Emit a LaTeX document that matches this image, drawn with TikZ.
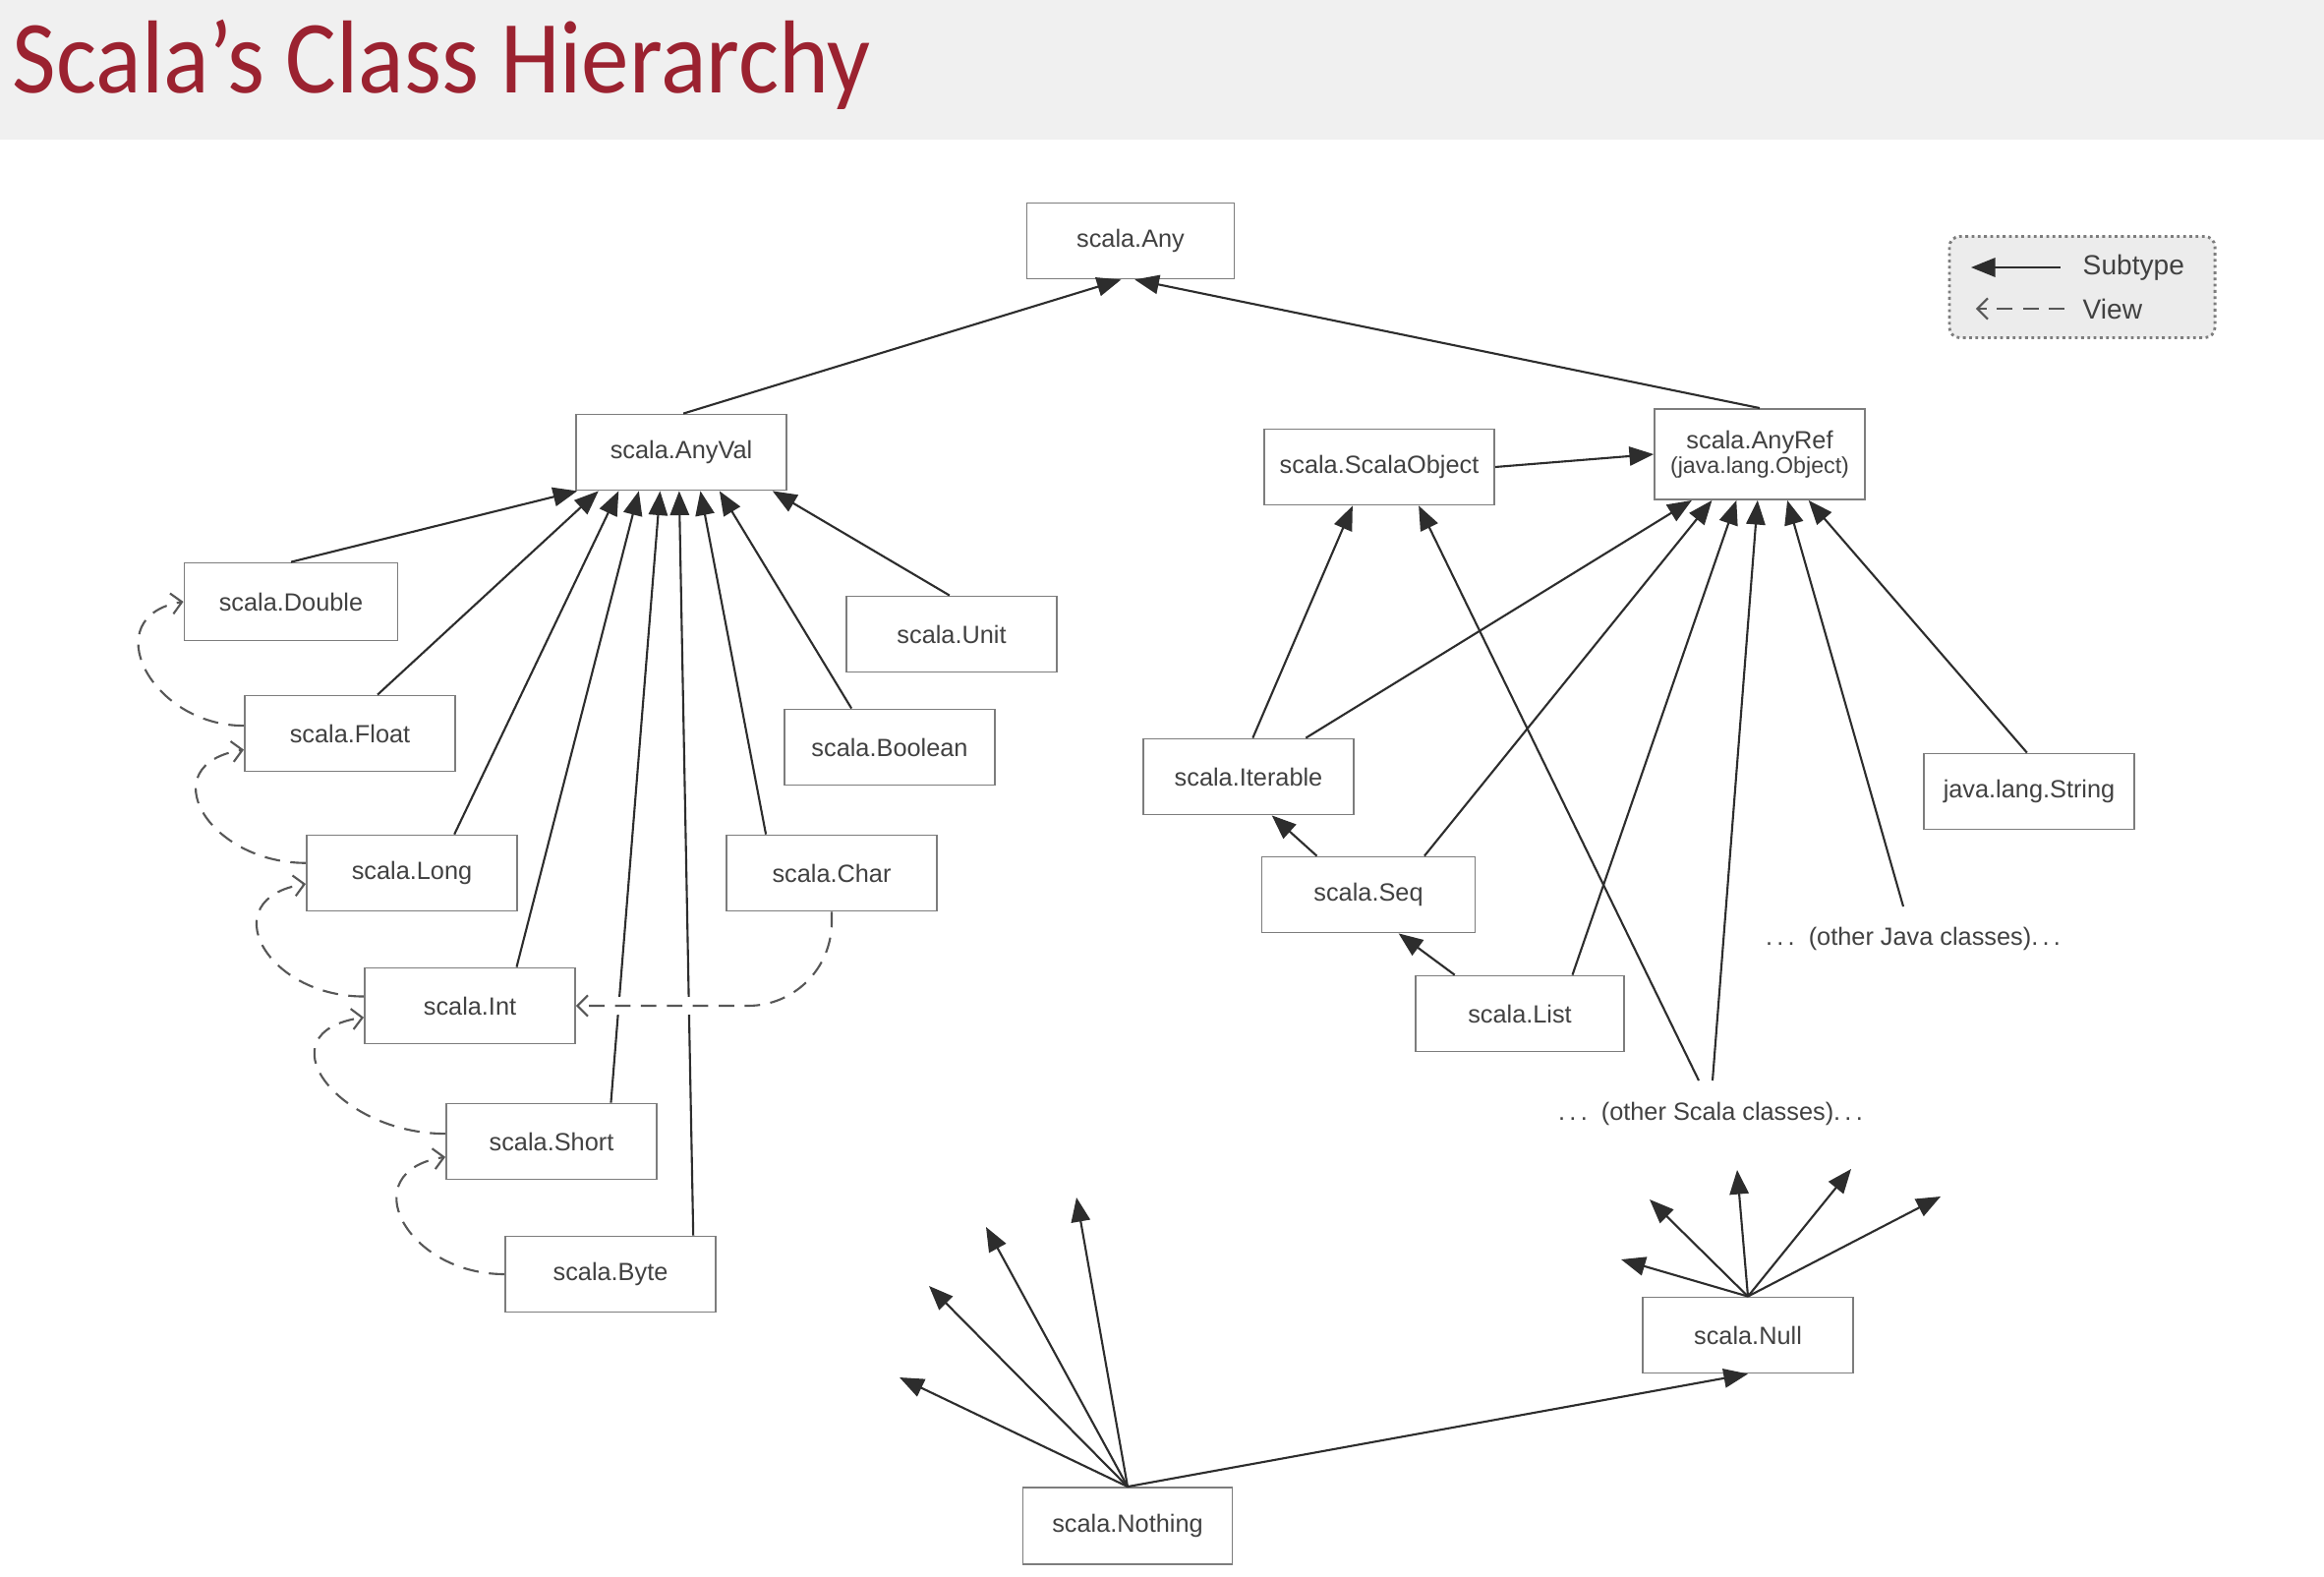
\documentclass[tikz,border=0pt]{standalone}
\usepackage{fontspec}
\setmainfont{Liberation Sans}
\newfontfamily\titlefont[FakeStretch=0.92]{Carlito}
\usetikzlibrary{arrows.meta,calc}

\definecolor{titlered}{RGB}{155,34,48}
\definecolor{band}{RGB}{240,240,240}
\definecolor{ink}{RGB}{65,65,65}
\definecolor{frame}{RGB}{125,125,125}
\definecolor{wire}{RGB}{45,45,45}
\definecolor{legendfill}{RGB}{236,236,236}

\tikzset{
  cls/.style={draw=frame, line width=0.5pt, fill=white, inner sep=0pt,
    minimum width=2.14cm, minimum height=0.77cm,
    font=\fontsize{7.2}{8}\selectfont, text=ink, align=center},
  note/.style={inner sep=0pt, font=\fontsize{7.2}{8}\selectfont, text=ink},
  sub/.style={draw=wire, line width=0.6pt, -{Triangle[length=7pt,width=5.5pt]}},
  view/.style={draw=wire!80, line width=0.6pt, dash pattern=on 4.5pt off 3pt,
    -{Straight Barb[length=3pt,width=6pt]}},
  legendbox/.style={draw=frame, densely dotted, line width=0.8pt, rounded corners=3pt,
    fill=legendfill, minimum width=2.70cm, minimum height=1.03cm, inner sep=0pt},
  lgtext/.style={inner sep=0pt, anchor=west, font=\fontsize{8}{9}\selectfont, text=ink}
}

\newcommand\sdots{.\kern1.2pt.\kern1.2pt.}

\begin{document}
\begin{tikzpicture}[x=0.01cm,y=-0.01cm]
  % canvas and heading band
  \useasboundingbox (0,0) rectangle (2364,1604);
  \fill[white] (0,0) rectangle (2364,1604);
  \fill[band] (0,0) rectangle (2364,142);
  \node[anchor=base west, inner sep=0pt, text=titlered,
        font=\titlefont\fontsize{30}{32}\selectfont] (title) at (12,95)
        {Scala’s Class Hierarchy};

  % top of the hierarchy
  \node[cls, minimum width=2.11cm] (Any) at (1150,245) {scala.Any};
  \node[cls] (AnyVal) at (693,460) {scala.AnyVal};
  \node[cls, minimum width=2.34cm] (ScalaObject) at (1403,475) {scala.ScalaObject};
  \node[cls, minimum height=0.92cm] (AnyRef) at (1790,462)
        {scala.AnyRef\\[-1pt]{\fontsize{6.6}{7}\selectfont(java.lang.Object)}};

  % value classes
  \node[cls, minimum width=2.17cm, minimum height=0.79cm] (Double) at (296,612) {scala.Double};
  \node[cls] (Float) at (356,746) {scala.Float};
  \node[cls] (Long) at (419,888) {scala.Long};
  \node[cls] (Int) at (478,1023) {scala.Int};
  \node[cls] (Short) at (561,1161) {scala.Short};
  \node[cls] (Byte) at (621,1296) {scala.Byte};
  \node[cls] (Unit) at (968,645) {scala.Unit};
  \node[cls] (Boolean) at (905,760) {scala.Boolean};
  \node[cls] (Char) at (846,888) {scala.Char};

  % reference classes
  \node[cls] (Iterable) at (1270,790) {scala.Iterable};
  \node[cls, minimum width=2.17cm] (Seq) at (1392,910) {scala.Seq};
  \node[cls, minimum width=2.12cm] (List) at (1546,1031) {scala.List};
  \node[cls] (String) at (2064,805) {java.lang.String};
  \node[note] (ojava) at (1946,955) {\sdots\ \ (other Java classes)\sdots};
  \node[note] (oscala) at (1740,1133) {\sdots\ \ (other Scala classes)\sdots};

  % bottom types
  \node[cls] (Null) at (1778,1358) {scala.Null};
  \node[cls, minimum width=2.13cm, minimum height=0.78cm] (Nothing) at (1147,1552) {scala.Nothing};

  % legend
  \node[legendbox] (legend) at (2118,292) {};
  \node[lgtext] (lsub) at (2118,272) {Subtype};
  \node[lgtext] (lview) at (2118,314) {View};
  \draw[sub] ([xshift=-0.22cm]lsub.west) -- ([xshift=-1.13cm]lsub.west);
  \draw[view] ([xshift=-0.18cm]lview.west) -- ([xshift=-1.08cm]lview.west);

  % subtype edges into scala.Any
  \draw[sub] ($(AnyVal.north west)!0.51!(AnyVal.north east)$) -- ($(Any.south west)!0.455!(Any.south east)$);
  \draw[sub] (AnyRef.north) -- ($(Any.south west)!0.52!(Any.south east)$);

  % subtype edges into scala.AnyVal
  \foreach \c/\a/\b in {Double/0.5/0.01, Float/0.63/0.11, Long/0.70/0.205,
      Int/0.72/0.30, Short/0.78/0.40, Byte/0.89/0.49, Char/0.19/0.59,
      Boolean/0.32/0.68, Unit/0.49/0.93}
    \draw[sub] ($(\c.north west)!\a!(\c.north east)$) -- ($(AnyVal.south west)!\b!(AnyVal.south east)$);

  % free ends for the "other classes" labels
  \coordinate (sc1) at ($(oscala)+(-12,-34)$);
  \coordinate (sc2) at ($(oscala)+(2,-34)$);
  \coordinate (jv1) at ($(ojava)+(-10,-33)$);

  % subtype edges into scala.AnyRef
  \foreach \c/\a/\b in {Iterable/0.77/0.18, Seq/0.76/0.275, List/0.75/0.39, String/0.49/0.73}
    \draw[sub] ($(\c.north west)!\a!(\c.north east)$) -- ($(AnyRef.south west)!\b!(AnyRef.south east)$);
  \draw[sub] (sc2) -- ($(AnyRef.south west)!0.49!(AnyRef.south east)$);
  \draw[sub] (jv1) -- ($(AnyRef.south west)!0.63!(AnyRef.south east)$);
  \draw[sub] (ScalaObject.east) -- (AnyRef.west);

  % subtype edges into scala.ScalaObject
  \draw[sub] ($(Iterable.north west)!0.52!(Iterable.north east)$) -- ($(ScalaObject.south west)!0.385!(ScalaObject.south east)$);
  \draw[sub] (sc1) -- ($(ScalaObject.south west)!0.67!(ScalaObject.south east)$);

  % collection chain
  \draw[sub] ($(Seq.north west)!0.26!(Seq.north east)$) -- ($(Iterable.south west)!0.61!(Iterable.south east)$);
  \draw[sub] ($(List.north west)!0.19!(List.north east)$) -- ($(Seq.south west)!0.64!(Seq.south east)$);

  % scala.Nothing fans out to everything
  \coordinate (n1) at (915,1401);
  \coordinate (n2) at (945,1308);
  \coordinate (n3) at (1003,1248);
  \coordinate (n4) at (1095,1218);
  \foreach \t in {n1,n2,n3,n4}
    \draw[sub] (Nothing.north) -- (\t);
  \draw[sub] (Nothing.north) -- (Null.south);

  % scala.Null fans out to reference types
  \coordinate (u1) at (1649,1281);
  \coordinate (u2) at (1678,1220);
  \coordinate (u3) at (1767,1190);
  \coordinate (u4) at (1883,1189);
  \coordinate (u5) at (1974,1217);
  \foreach \t in {u1,u2,u3,u4,u5}
    \draw[sub] (Null.north) -- (\t);

  % implicit views between numeric types
  \foreach \c/\p/\fa/\fb/\ka/\kb in {Float/Double/0.40/0.50/95/90,
      Long/Float/0.37/0.71/100/95, Int/Long/0.38/0.64/100/95,
      Short/Int/0.40/0.65/110/105, Byte/Short/0.50/0.70/100/95}
    \draw[view] ($(\c.north west)!\fa!(\c.south west)$)
      .. controls +(-\ka,0) and +(-\kb,15) ..
      ($(\p.north west)!\fb!(\p.south west)$);

  % Char views as Int
  \draw[view, rounded corners=0.85cm,
        preaction={draw=white, solid, line width=5pt, -, shorten >=0.35cm, shorten <=0.3cm}]
        (Char.south) |- (Int.east);
\end{tikzpicture}
\end{document}
